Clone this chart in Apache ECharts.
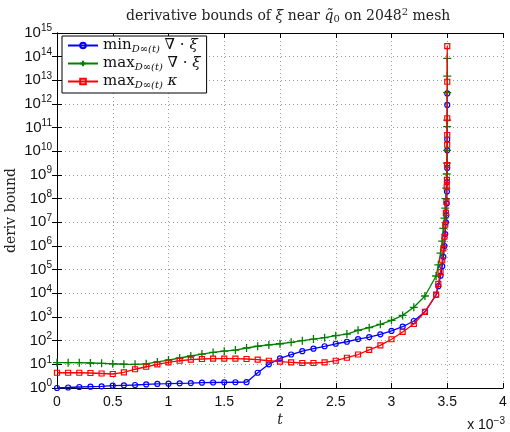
<!DOCTYPE html>
<html>
<head>
<meta charset="utf-8">
<script src="https://cdn.jsdelivr.net/npm/echarts@6/dist/echarts.min.js"></script>
<style>
  html, body { margin: 0; padding: 0; background: #fff; }
  #chart { width: 510px; height: 432px; }
</style>
</head>
<body>
<div id="chart"></div>
<script>
// time (in units of 1e-3): uniform steps up to 3.4, then refined steps toward blow-up
const timeSteps = [
  0, 0.1, 0.2, 0.3, 0.4, 0.5, 0.6, 0.7, 0.8, 0.9,
  1.0, 1.1, 1.2, 1.3, 1.4, 1.5, 1.6, 1.7, 1.8, 1.9,
  2.0, 2.1, 2.2, 2.3, 2.4, 2.5, 2.6, 2.7, 2.8, 2.9,
  3.0, 3.1, 3.2, 3.3, 3.4,
  3.42, 3.44, 3.455, 3.465, 3.475, 3.482, 3.488, 3.492,
  3.495, 3.497, 3.4985, 3.4993, 3.4997, 3.4999, 3.49997, 3.5
];

// min over D_inf(t) of div xi
const minDiv = [
  1.0, 1.05, 1.1, 1.14, 1.18, 1.25, 1.3, 1.34, 1.41, 1.48,
  1.52, 1.58, 1.62, 1.68, 1.71, 1.73, 1.75, 1.77, 4.4, 10,
  18, 26, 36, 46, 58, 74, 90, 117, 142, 186,
  257, 389, 676, 1660, 8500,
  2.0e4, 5.6e4, 1.4e5, 3.5e5, 1.0e6, 3.2e6, 1.0e7, 2.0e7,
  6.3e7, 2.0e8, 5.0e8, 2.0e9, 1.1e10, 3.2e10, 9.1e11, 2.8e12
];

// max over D_inf(t) of div xi
const maxDiv = [
  11.7, 11.7, 11.7, 11.4, 11.0, 10.6, 10.1, 10.0, 10.5, 12.6,
  15.2, 18.5, 22.5, 27, 32, 36, 40, 49, 58, 66,
  74, 85, 100, 117, 134, 162, 190, 275, 355, 490,
  724, 1170, 2570, 7700, 5.4e4,
  1.6e5, 5.0e5, 1.6e6, 5.6e6, 1.5e7, 4.0e7, 1.0e8, 2.8e8,
  1.1e9, 3.2e9, 1.1e10, 1.1e11, 2.1e11, 3.0e12, 1.5e13, 8.5e13
];

// max over D_inf(t) of curvature kappa
const maxKappa = [
  4.4, 4.4, 4.4, 4.3, 4.1, 3.9, 4.6, 6.2, 7.9, 10,
  12.2, 14.2, 15.7, 16.8, 17.3, 17.3, 17.3, 16.8, 15.7, 14.2,
  12.9, 12.2, 11.4, 11.4, 12.2, 14.2, 19, 26, 41, 63,
  115, 233, 505, 1660, 8900,
  2.5e4, 7.9e4, 2.5e5, 7.9e5, 2.5e6, 7.9e6, 2.5e7, 7.4e7,
  3.2e8, 6.2e8, 2.6e9, 1.9e10, 4.9e10, 2.5e11, 8.7e12, 2.8e14
];

const xTickLabels = ['0', '0.5', '1', '1.5', '2', '2.5', '3', '3.5', '4'];
const yDecadeMin = 0;
const yDecadeMax = 15;

const SANS = 'Liberation Sans, Arial, Helvetica, sans-serif';
const SERIF = 'DejaVu Serif, Liberation Serif, serif';

const chart = echarts.init(document.getElementById('chart'), null, { renderer: 'canvas' });

const pairs = arr => timeSteps.map((t, i) => [t, arr[i]]);

const legendText = {
  minDiv: '{op|min}{sub|D}{subr|∞}{sub|(t)} {op|∇ · }{opi|ξ}',
  maxDiv: '{op|max}{sub|D}{subr|∞}{sub|(t)} {op|∇ · }{opi|ξ}',
  maxKappa: '{op|max}{sub|D}{subr|∞}{sub|(t)} {opi|κ}'
};

const frameAxis = {
  axisLine: { show: true, lineStyle: { color: '#000', width: 1 } },
  axisTick: { show: true, inside: true, length: 5, lineStyle: { color: '#000' } }
};

const gridLine = { show: true, lineStyle: { color: '#9a9a9a', type: [1, 3], width: 1 } };

const plusPath = 'path://M5,0L5,10M0,5L10,5';

const option = {
  animation: false,
  backgroundColor: '#fff',
  title: {
    text: 'derivative bounds of {i|ξ} near {i|q̃}{s|0} on 2048{p|2} mesh',
    left: 121,
    top: 2,
    textStyle: {
      fontFamily: SERIF, fontSize: 14, fontWeight: 'normal', color: '#222',
      rich: {
        i: { fontFamily: SERIF, fontSize: 14, fontStyle: 'italic', color: '#222' },
        s: { fontFamily: SERIF, fontSize: 10, color: '#222', padding: [6, 0, 0, 0] },
        p: { fontFamily: SERIF, fontSize: 10, color: '#222', padding: [0, 0, 8, 0] }
      }
    }
  },
  grid: { left: 57, right: 7, top: 33, bottom: 44, containLabel: false, outerBoundsMode: 'none' },
  legend: {
    left: 62, top: 36,
    orient: 'vertical',
    padding: [2, 6, 3, 5],
    itemGap: 2,
    itemWidth: 30,
    itemHeight: 7,
    backgroundColor: '#fff',
    borderColor: '#000',
    borderWidth: 1,
    borderRadius: 0,
    formatter: name => legendText[name],
    textStyle: {
      fontFamily: SERIF, fontSize: 15, color: '#111',
      rich: {
        op: { fontFamily: SERIF, fontSize: 15, color: '#111' },
        opi: { fontFamily: SERIF, fontSize: 15, fontStyle: 'italic', color: '#111' },
        sub: { fontFamily: SERIF, fontSize: 10, fontStyle: 'italic', color: '#111', padding: [7, 0, 0, 0] },
        subr: { fontFamily: SERIF, fontSize: 10, color: '#111', padding: [7, 0, 0, 0] }
      }
    },
    data: ['minDiv', 'maxDiv', 'maxKappa']
  },
  xAxis: [
    Object.assign({
      type: 'value', min: 0, max: 4, interval: 0.5,
      name: 't', nameLocation: 'middle', nameGap: 25, nameMoveOverlap: false,
      nameTextStyle: { fontFamily: SERIF, fontStyle: 'italic', fontSize: 14, color: '#222' },
      axisLabel: {
        margin: 7, fontFamily: SANS, fontSize: 14, color: '#111',
        formatter: (v) => xTickLabels[Math.round(v / 0.5)]
      },
      splitLine: gridLine
    }, frameAxis),
    Object.assign({
      type: 'value', min: 0, max: 4, interval: 0.5, position: 'top',
      axisLabel: { show: false }, splitLine: { show: false }
    }, frameAxis)
  ],
  yAxis: [
    Object.assign({
      type: 'log', logBase: 10, min: Math.pow(10, yDecadeMin), max: Math.pow(10, yDecadeMax),
      interval: 1, splitNumber: yDecadeMax - yDecadeMin,
      name: 'deriv bound', nameLocation: 'middle', nameGap: 39, nameRotate: 90, nameMoveOverlap: false,
      nameTextStyle: { fontFamily: SERIF, fontSize: 14, color: '#222' },
      axisLabel: {
        margin: 5, align: 'right', fontFamily: SANS, fontSize: 14, color: '#111',
        formatter: (v) => '{b|10}{e|' + Math.round(Math.log10(v)) + '}',
        rich: {
          b: { fontFamily: SANS, fontSize: 15, color: '#111' },
          e: { fontFamily: SANS, fontSize: 10, color: '#111', padding: [0, 0, 9, 0] }
        }
      },
      splitLine: gridLine
    }, frameAxis),
    Object.assign({
      type: 'log', logBase: 10, min: Math.pow(10, yDecadeMin), max: Math.pow(10, yDecadeMax),
      interval: 1, splitNumber: yDecadeMax - yDecadeMin, position: 'right',
      axisLabel: { show: false }, splitLine: { show: false }
    }, frameAxis)
  ],
  series: [
    {
      name: 'minDiv', type: 'line', data: pairs(minDiv),
      symbol: 'circle', symbolSize: 5,
      lineStyle: { color: '#0000ff', width: 1.3 },
      itemStyle: { color: '#ffffff00', borderColor: '#0000ff', borderWidth: 1.2 },
      z: 3
    },
    {
      name: 'maxDiv', type: 'line', data: pairs(maxDiv),
      symbol: plusPath, symbolSize: 8,
      lineStyle: { color: '#008000', width: 1.3 },
      itemStyle: { color: '#008000', borderColor: '#008000', borderWidth: 1.3 },
      z: 4
    },
    {
      name: 'maxKappa', type: 'line', data: pairs(maxKappa),
      symbol: 'rect', symbolSize: 5,
      lineStyle: { color: '#ff0000', width: 1.3 },
      itemStyle: { color: '#ffffff00', borderColor: '#ff0000', borderWidth: 1.2 },
      z: 5
    }
  ],
  graphic: [
    {
      type: 'text', right: 5, top: 416,
      style: {
        text: 'x 10{e|−3}',
        fontFamily: SANS, fontSize: 14, fill: '#111',
        rich: { e: { fontFamily: SANS, fontSize: 10, fill: '#111', padding: [0, 0, 9, 0] } }
      }
    }
  ]
};

chart.setOption(option);
</script>
</body>
</html>
